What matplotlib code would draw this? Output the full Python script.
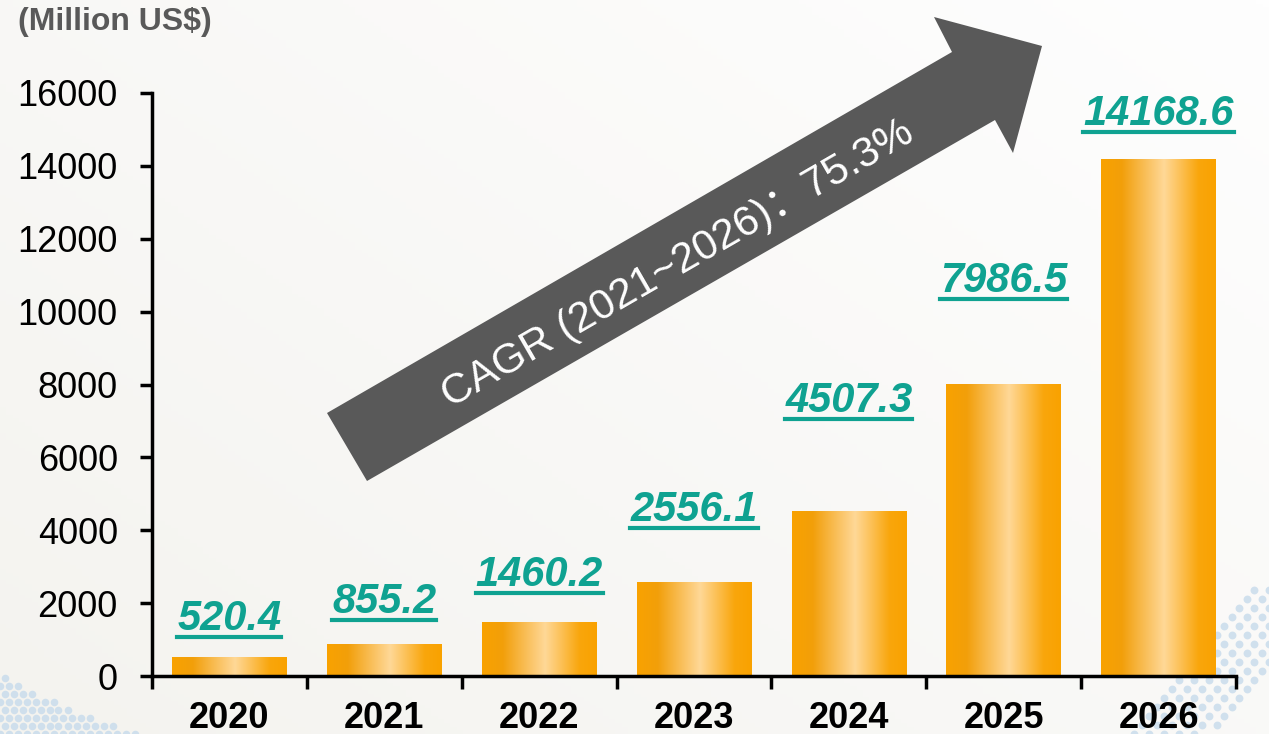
import numpy as np
import matplotlib.pyplot as plt
from matplotlib.patches import Polygon
from matplotlib.lines import Line2D
from matplotlib.colors import LinearSegmentedColormap

# data
years = ['2020', '2021', '2022', '2023', '2024', '2025', '2026']
revenue = [520.4, 855.2, 1460.2, 2556.1, 4507.3, 7986.5, 14168.6]
yticks = [0, 2000, 4000, 6000, 8000, 10000, 12000, 14000, 16000]
unit_label = '(Million US$)'
cagr_label = 'CAGR (2021~2026)\uff1a75.3%'
# how far each value label sits above its bar (pixels)
label_lift = [27, 32, 37, 62, 100, 93, 35]

W, H = 1269, 734
plt.rcParams['font.family'] = ['Liberation Sans', 'Noto Sans CJK SC', 'DejaVu Sans']
fig = plt.figure(figsize=(W / 100, H / 100), dpi=100)

# background: soft off-white gradient
bg = fig.add_axes([0, 0, 1, 1], zorder=-10)
gx, gy = np.meshgrid(np.linspace(0, 1, 200), np.linspace(0, 1, 200))
g = np.clip(0.55 * gx + 0.45 * gy, 0, 1)
bg_cmap = LinearSegmentedColormap.from_list('bg', ['#f4f3ef', '#fefefe'])
bg.imshow(g, cmap=bg_cmap, extent=[0, 1, 0, 1], origin='lower', aspect='auto')

def px(x, y):
    return x / W, 1 - y / H

# decorative light blue dots in the bottom corners
dx, dy = [], []
for r in range(9):
    for c in range(16):
        x = c * 9 + (r % 2) * 4.5
        y = 734 - r * 8
        if y > 734 - 62 * (1 - x / 150) ** 1.4 and x < 145:
            dx.append(x)
            dy.append(y)
bx, by = px(np.array(dx), np.array(dy))
bg.scatter(bx, by, s=30, color='#c9dcec', alpha=0.85, lw=0)
dx, dy = [], []
for r in range(17):
    for c in range(11):
        x = 1269 - c * 15 - (r % 2) * 7
        y = 734 - r * 9
        d = (1269 - x) + 0.9 * (734 - y)
        if 60 < d < 150 and (1269 - x) < 150:
            dx.append(x)
            dy.append(y)
bx, by = px(np.array(dx), np.array(dy))
bg.scatter(bx, by, s=32, color='#c9dcec', alpha=0.85, lw=0)
bg.set_xlim(0, 1)
bg.set_ylim(0, 1)
bg.axis('off')

# main axes
ax = fig.add_axes([152 / W, 1 - 676 / H, (1236 - 152) / W, (676 - 93) / H])
ax.patch.set_alpha(0)
x = np.arange(len(years))
bar_w = 0.74
bars = ax.bar(x, revenue, width=bar_w, color='none', edgecolor='none')

bar_cmap = LinearSegmentedColormap.from_list(
    'bar', [(0, '#f9a200'), (0.18, '#f29f0a'), (0.55, '#ffd897'),
            (0.85, '#f9a60c'), (1, '#faa200')])
grad = np.linspace(0, 1, 256).reshape(1, -1)
for b in bars:
    bx0, bw, bh = b.get_x(), b.get_width(), b.get_height()
    ax.imshow(grad, cmap=bar_cmap, aspect='auto', zorder=2,
              extent=[bx0, bx0 + bw, 0, bh])

ax.set_xlim(-0.5, len(years) - 0.5)
ax.set_ylim(0, 16000)
ax.set_yticks(yticks)
ax.set_yticklabels([str(t) for t in yticks], fontsize=26)
ax.set_xticks(x)
ax.set_xticklabels(years, fontsize=26, fontweight='bold')
ax.set_xticks(np.arange(-0.5, len(years)), minor=True)
ax.tick_params(axis='x', which='major', length=0, pad=18)
ax.tick_params(axis='x', which='minor', length=9, width=2.5, direction='out')
ax.tick_params(axis='y', length=8.6, width=2.5, direction='out', pad=16)
for s in ['top', 'right']:
    ax.spines[s].set_visible(False)
for s in ['left', 'bottom']:
    ax.spines[s].set_linewidth(2.5)
    ax.spines[s].set_color('black')

# value labels
teal = '#0fa291'
labels = []
for xi, v, lift in zip(x, revenue, label_lift):
    t = ax.annotate(f'{v:.1f}', xy=(xi, v), xytext=(0, lift * 72 / 100),
                    textcoords='offset points', ha='center', va='baseline',
                    fontsize=30, fontweight='bold', fontstyle='italic', color=teal)
    labels.append((t, xi, v, lift))

fig.text(18 / W, 1 - 22 / H, unit_label, fontsize=23, fontweight='bold',
         color='#595959', ha='left', va='center')

# growth arrow
arrow_px = [(327, 413), (952, 52), (934, 17), (1042, 46), (1013, 153), (995, 120), (367, 481)]
arrow = Polygon([px(a, b) for a, b in arrow_px], closed=True, transform=fig.transFigure,
                facecolor='#595959', edgecolor='none', zorder=5)
fig.add_artist(arrow)
fig.text(678 / W, 1 - 264 / H, cagr_label, rotation=30, rotation_mode='anchor',
         ha='center', va='center', color='white', fontsize=30.5, zorder=6)

# underline value labels
fig.canvas.draw()
renderer = fig.canvas.get_renderer()
for t, xi, v, lift in labels:
    bb = t.get_window_extent(renderer)
    base = ax.transData.transform((xi, v))[1] + lift
    yline = base - 7
    fig.add_artist(Line2D([bb.x0 / W, bb.x1 / W], [yline / H, yline / H],
                          transform=fig.transFigure, color=teal, lw=3))

fig.savefig('out.png', dpi=100)
